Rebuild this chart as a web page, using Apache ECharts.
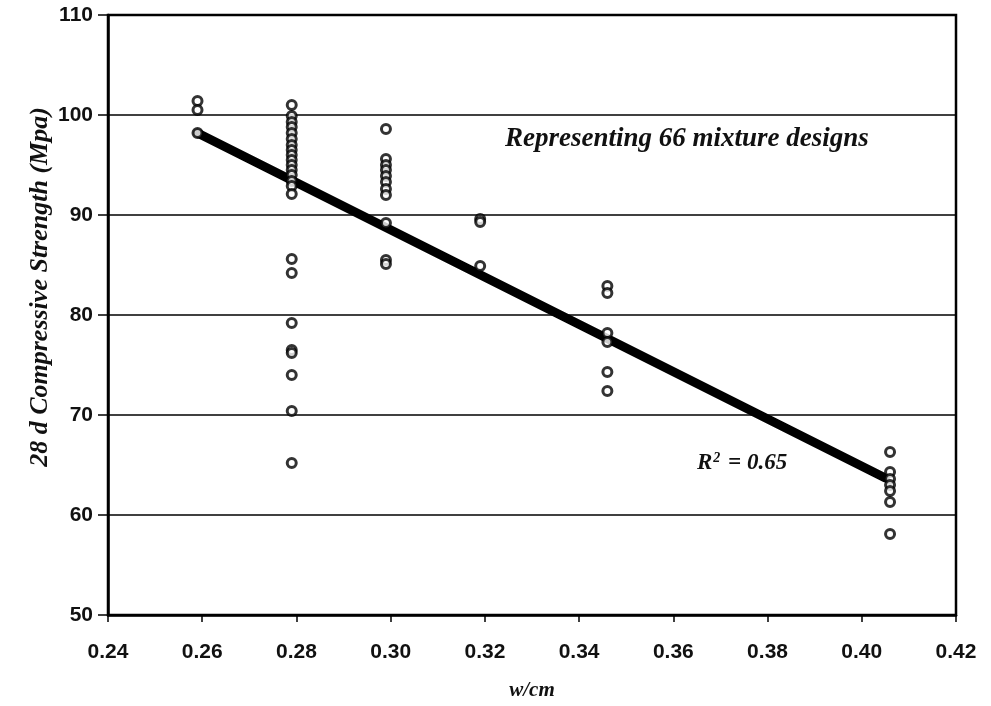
<!DOCTYPE html>
<html>
<head>
<meta charset="utf-8">
<script src="https://cdn.jsdelivr.net/npm/echarts@6/dist/echarts.min.js"></script>
<style>
html, body { margin: 0; padding: 0; background: #fff; }
#chart { width: 991px; height: 706px; }
</style>
</head>
<body>
<div id="chart"></div>
<script>
// w/cm of each group of mixtures
const wcmGroups = [0.259, 0.279, 0.299, 0.319, 0.346, 0.406];
// 28 d strengths (MPa) read for each group
const strengthGroups = [
    [101.4, 100.5, 98.2],
    [101.0, 99.9, 99.3, 98.8, 98.2, 97.6, 97.0, 96.5, 96.0, 95.5, 95.0, 94.5, 94.0, 93.4, 92.9, 92.1,
     85.6, 84.2, 79.2, 76.5, 76.2, 74.0, 70.4, 65.2],
    [98.6, 95.6, 95.0, 94.5, 93.9, 93.3, 92.6, 92.0, 89.2, 85.5, 85.1],
    [89.6, 89.3, 84.9],
    [82.9, 82.2, 78.2, 77.3, 74.3, 72.4],
    [66.3, 64.3, 63.6, 63.0, 62.4, 61.3, 58.1]
];
// regression line end points
const trendX = [0.259, 0.405];
const trendY = [98.2, 63.7];

const xTicks = ['0.24', '0.26', '0.28', '0.30', '0.32', '0.34', '0.36', '0.38', '0.40', '0.42'];
const yTicks = [50, 60, 70, 80, 90, 100, 110];

const points = [];
wcmGroups.forEach((x, i) => {
    strengthGroups[i].forEach((y) => points.push([x, y]));
});
const trendData = trendX.map((x, i) => [x, trendY[i]]);

const serif = '"Liberation Serif", "Times New Roman", serif';
const sans = '"Liberation Sans", Arial, sans-serif';

const chart = echarts.init(document.getElementById('chart'));
chart.setOption({
    animation: false,
    backgroundColor: '#fff',
    grid: {
        left: 108,
        right: 35,
        top: 15,
        bottom: 91,
        show: true,
        borderColor: '#000',
        borderWidth: 2.5
    },
    xAxis: {
        type: 'value',
        min: 0.24,
        max: 0.42,
        interval: 0.02,
        name: 'w/cm',
        nameLocation: 'middle',
        nameGap: 65,
        nameTextStyle: {
            fontFamily: serif, fontStyle: 'italic', fontWeight: 'bold', fontSize: 21, color: '#111'
        },
        axisLine: { show: true, lineStyle: { color: '#000', width: 2.5 } },
        axisTick: { show: true, length: 7, lineStyle: { color: '#000', width: 1.5 } },
        axisLabel: {
            margin: 27,
            fontFamily: sans,
            fontWeight: 'bold',
            fontSize: 21,
            color: '#111',
            formatter: (v) => xTicks[Math.round((v - 0.24) / 0.02)]
        },
        splitLine: { show: false }
    },
    yAxis: {
        type: 'value',
        min: yTicks[0],
        max: yTicks[yTicks.length - 1],
        interval: 10,
        axisLine: { show: true, lineStyle: { color: '#000', width: 2.5 } },
        axisTick: { show: true, inside: false, length: 10, lineStyle: { color: '#000', width: 1.5 } },
        axisLabel: {
            margin: 15,
            fontFamily: sans,
            fontWeight: 'bold',
            fontSize: 21,
            color: '#111'
        },
        splitLine: { show: true, lineStyle: { color: '#000', width: 1.5 } }
    },
    series: [
        {
            type: 'line',
            data: trendData,
            symbol: 'none',
            z: 3,
            lineStyle: { color: '#000', width: 9, cap: 'round' }
        },
        {
            type: 'scatter',
            data: points,
            symbol: 'circle',
            symbolSize: 9,
            z: 4,
            itemStyle: { color: '#fff', borderColor: '#000', borderWidth: 3 }
        }
    ],
    graphic: [
        {
            type: 'text',
            x: 40,
            y: 287,
            rotation: Math.PI / 2,
            style: {
                text: '28 d Compressive Strength (Mpa)',
                font: 'italic bold 26px ' + serif,
                fill: '#111',
                align: 'center',
                verticalAlign: 'middle'
            }
        },
        {
            type: 'text',
            left: 505,
            top: 126,
            style: {
                text: 'Representing 66 mixture designs',
                font: 'italic bold 27px ' + serif,
                fill: '#111'
            }
        },
        {
            type: 'text',
            left: 697,
            top: 451,
            style: {
                text: '{r|R}{s|2}{r| = 0.65}',
                fill: '#111',
                rich: {
                    r: { font: 'italic bold 23px ' + serif, fill: '#111', verticalAlign: 'bottom' },
                    s: { font: 'italic bold 14px ' + serif, fill: '#111', verticalAlign: 'top', padding: [0, 2, 10, 1] }
                }
            }
        }
    ]
});
</script>
</body>
</html>
